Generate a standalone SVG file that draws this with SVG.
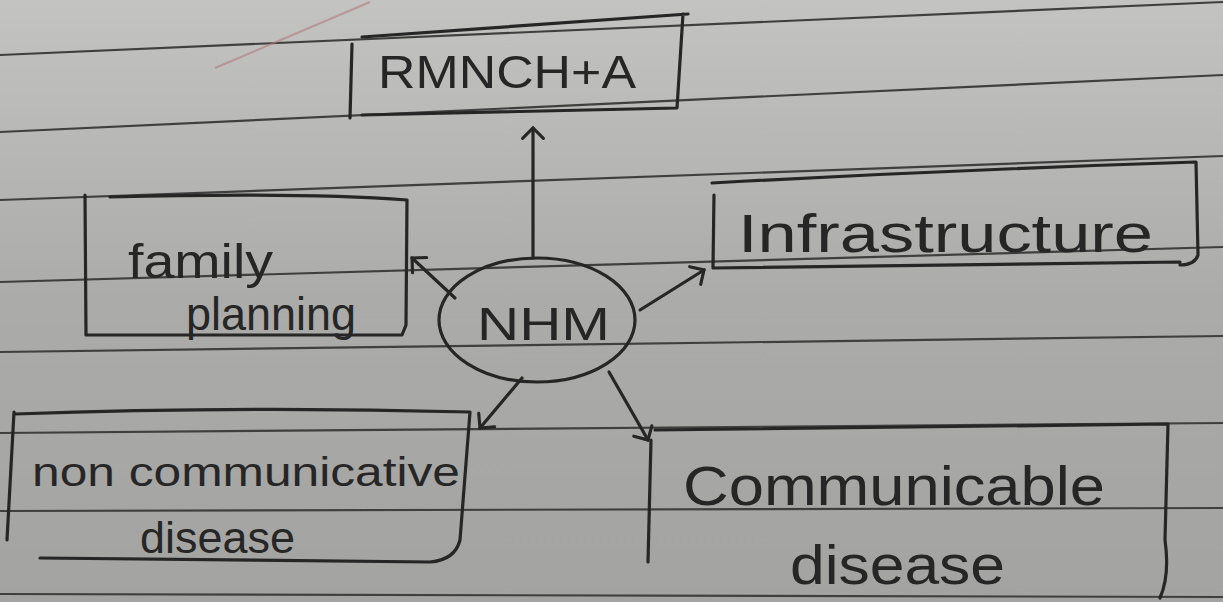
<svg xmlns="http://www.w3.org/2000/svg" width="1223" height="602" viewBox="0 0 1223 602">
<defs>
<linearGradient id="paper" x1="0" y1="0" x2="0" y2="1">
<stop offset="0" stop-color="#c3c3c1"/>
<stop offset="0.5" stop-color="#ababa9"/>
<stop offset="1" stop-color="#a3a3a1"/>
</linearGradient>
<marker id="ah" viewBox="0 0 20 20" refX="10" refY="10" markerWidth="26" markerHeight="26" markerUnits="userSpaceOnUse" orient="auto">
<path d="M2,2 L10,10 L2,18" fill="none" stroke="#262626" stroke-width="2.4" stroke-linecap="round"/>
</marker>
<style>
.rule{stroke:#3f3f3f;stroke-width:2.2;fill:none}
.ink{stroke:#262626;stroke-width:3.2;fill:none;stroke-linecap:round;stroke-linejoin:round}
.txt{font-family:"Liberation Sans","DejaVu Sans",sans-serif;fill:#262626}
</style>
</defs>
<g id="paper-bg">
<rect width="1223" height="602" fill="url(#paper)"/>
<path class="rule" d="M0,55 L1223,2"/>
<path class="rule" d="M0,132 L1223,75"/>
<path class="rule" d="M0,200 L1223,156"/>
<path class="rule" d="M0,282 L1223,247"/>
<path class="rule" d="M0,352 L1223,336"/>
<path class="rule" d="M0,433 L1223,423"/>
<path class="rule" d="M0,511 L1223,508"/>
<path class="rule" d="M0,594 L1223,597"/>
<path d="M215,68 L370,2" stroke="#b07c7c" stroke-width="2" fill="none" opacity="0.6"/>
</g>
<g id="connectors">
<path class="ink" d="M533,258 L533,128" marker-end="url(#ah)"/>
<path class="ink" d="M455,298 L412,258" marker-end="url(#ah)"/>
<path class="ink" d="M640,310 L704,270" marker-end="url(#ah)"/>
<path class="ink" d="M522,378 L480,428" marker-end="url(#ah)"/>
<path class="ink" d="M609,372 L648,440" marker-end="url(#ah)"/>
</g>
<g id="node-rmncha">
<path class="ink" d="M362,37 L688,14 M683,14 L677,108 L362,115 M352,44 L350,118"/>
<text class="txt" x="378" y="88" font-size="46" textLength="258" lengthAdjust="spacingAndGlyphs">RMNCH+A</text>
</g>
<g id="node-family">
<path class="ink" d="M85,195 L86,335 L402,335 L406,325 L407,200 Q300,192 110,197"/>
<text class="txt" x="128" y="278" font-size="48" textLength="145" lengthAdjust="spacingAndGlyphs">family</text>
<text class="txt" x="186" y="330" font-size="46" textLength="170" lengthAdjust="spacingAndGlyphs">planning</text>
</g>
<g id="node-nhm">
<ellipse class="ink" cx="537" cy="320" rx="98" ry="62"/>
<text class="txt" x="477" y="340" font-size="46" textLength="133" lengthAdjust="spacingAndGlyphs">NHM</text>
</g>
<g id="node-infrastructure">
<path class="ink" d="M712,183 Q950,170 1196,162 L1198,255 Q1195,265 1180,265 M714,195 L713,268 L1180,262"/>
<text class="txt" x="738" y="252" font-size="54" textLength="415" lengthAdjust="spacingAndGlyphs">Infrastructure</text>
</g>
<g id="node-noncommunicative">
<path class="ink" d="M15,414 Q240,406 470,412 L460,540 Q455,560 430,562 L40,558 M14,412 L7,540"/>
<text class="txt" x="32" y="486" font-size="40" textLength="428" lengthAdjust="spacingAndGlyphs">non communicative</text>
<text class="txt" x="140" y="553" font-size="44" textLength="155" lengthAdjust="spacingAndGlyphs">disease</text>
</g>
<g id="node-communicable">
<path class="ink" d="M655,430 L1168,424 L1165,540 Q1170,575 1160,598 M651,440 L648,562"/>
<text class="txt" x="683" y="505" font-size="56" textLength="422" lengthAdjust="spacingAndGlyphs">Communicable</text>
<text class="txt" x="790" y="584" font-size="56" textLength="215" lengthAdjust="spacingAndGlyphs">disease</text>
</g>
</svg>
